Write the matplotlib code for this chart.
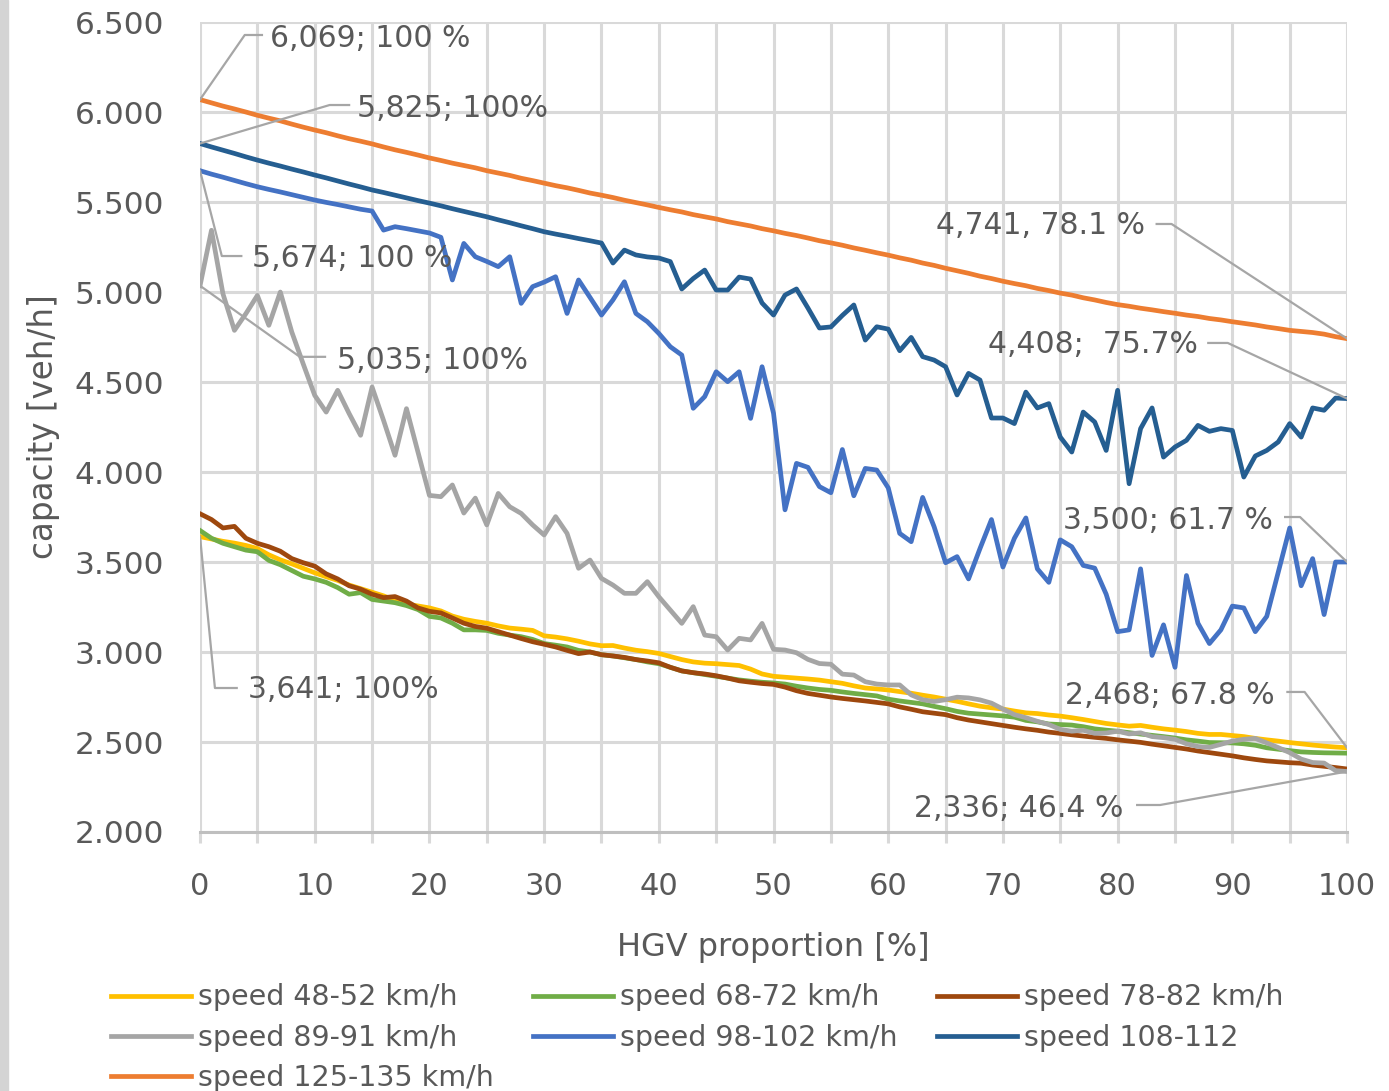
import matplotlib
matplotlib.use("Agg")
import matplotlib.pyplot as plt
from matplotlib.ticker import FuncFormatter
from matplotlib.patches import Rectangle

plt.rcParams['font.family'] = ['DejaVu Sans']

hgv = list(range(0, 101))

speed_48_52 = [3641, 3628, 3615, 3605, 3592, 3575, 3540, 3512, 3490, 3465,
               3440, 3418, 3398, 3372, 3352, 3332, 3312, 3286, 3266, 3256,
               3245, 3228, 3200, 3182, 3170, 3160, 3145, 3133, 3127, 3120,
               3090, 3083, 3073, 3060, 3045, 3035, 3036, 3022, 3010, 3002,
               2992, 2975, 2958, 2945, 2938, 2935, 2930, 2925, 2905, 2878,
               2865, 2860, 2855, 2850, 2844, 2835, 2826, 2812, 2800, 2795,
               2789, 2780, 2771, 2760, 2750, 2738, 2726, 2712, 2699, 2690,
               2683, 2672, 2662, 2658, 2650, 2644, 2635, 2625, 2614, 2603,
               2595, 2588, 2592, 2582, 2573, 2566, 2558, 2548, 2542, 2542,
               2536, 2530, 2520, 2512, 2505, 2497, 2490, 2483, 2477, 2472,
               2468]

speed_68_72 = [3675, 3632, 3604, 3585, 3566, 3557, 3509, 3485, 3453, 3421,
               3406, 3387, 3358, 3321, 3330, 3292, 3283, 3274, 3258, 3236,
               3198, 3189, 3160, 3123, 3123, 3120, 3104, 3094, 3085, 3070,
               3047, 3038, 3028, 3009, 3000, 2985, 2978, 2968, 2958, 2945,
               2935, 2915, 2895, 2885, 2875, 2865, 2855, 2845, 2838, 2832,
               2828, 2822, 2810, 2800, 2792, 2787, 2778, 2770, 2763, 2756,
               2738, 2728, 2720, 2712, 2698, 2685, 2670, 2660, 2655, 2650,
               2645, 2638, 2620, 2612, 2600, 2597, 2594, 2585, 2573, 2566,
               2560, 2552, 2544, 2537, 2530, 2522, 2512, 2505, 2497, 2496,
               2495, 2490, 2482, 2468, 2460, 2452, 2445, 2442, 2440, 2439,
               2438]

speed_78_82 = [3768, 3736, 3689, 3698, 3632, 3604, 3585, 3560, 3519, 3496,
               3477, 3434, 3406, 3368, 3349, 3321, 3302, 3308, 3283, 3245,
               3226, 3217, 3189, 3160, 3142, 3132, 3113, 3094, 3075, 3057,
               3043, 3028, 3009, 2991, 3000, 2985, 2978, 2970, 2958, 2950,
               2940, 2915, 2895, 2885, 2878, 2868, 2855, 2840, 2832, 2825,
               2820, 2805, 2785, 2770, 2760, 2750, 2742, 2735, 2728, 2720,
               2712, 2695, 2682, 2668, 2660, 2652, 2635, 2622, 2612, 2602,
               2592, 2582, 2573, 2565, 2555, 2548, 2540, 2533, 2526, 2520,
               2512, 2505, 2498, 2488, 2479, 2470, 2461, 2450, 2441, 2432,
               2423, 2412, 2403, 2395, 2390, 2385, 2382, 2372, 2365, 2358,
               2350]

speed_89_91 = [5035, 5343, 4990, 4787, 4880, 4981, 4815, 5000, 4778, 4600,
               4426, 4333, 4454, 4325, 4204, 4472, 4287, 4093, 4352, 4111,
               3870, 3863, 3928, 3772, 3855, 3706, 3881, 3807, 3770, 3706,
               3650, 3752, 3659, 3465, 3511, 3409, 3372, 3326, 3326, 3391,
               3307, 3233, 3159, 3252, 3094, 3085, 3011, 3076, 3067, 3159,
               3015, 3011, 2996, 2959, 2936, 2932, 2877, 2872, 2835, 2822,
               2817, 2817, 2762, 2735, 2725, 2735, 2749, 2745, 2734, 2716,
               2683, 2652, 2635, 2615, 2597, 2570, 2560, 2565, 2548, 2550,
               2560, 2545, 2551, 2530, 2524, 2515, 2490, 2475, 2470, 2487,
               2505, 2515, 2520, 2495, 2469, 2441, 2405, 2386, 2383, 2341,
               2336]

speed_98_102 = [5674, 5655, 5638, 5620, 5602, 5585, 5570, 5556, 5541, 5526,
                5511, 5498, 5486, 5473, 5460, 5450, 5344, 5363, 5352, 5340,
                5328, 5304, 5067, 5270, 5196, 5170, 5141, 5196, 4937, 5030,
                5055, 5085, 4881, 5067, 4970, 4872, 4956, 5057, 4881, 4835,
                4770, 4696, 4650, 4354, 4419, 4557, 4502, 4557, 4298, 4585,
                4326, 3790, 4048, 4026, 3919, 3885, 4125, 3868, 4020, 4011,
                3912, 3659, 3613, 3859, 3696, 3496, 3530, 3406, 3575, 3736,
                3472, 3632, 3745, 3462, 3387, 3623, 3585, 3481, 3466, 3321,
                3113, 3123, 3462, 2981, 3151, 2915, 3425, 3160, 3047, 3123,
                3255, 3245, 3113, 3198, 3443, 3689, 3368, 3519, 3208, 3500,
                3500]

speed_108_112 = [5825, 5806, 5788, 5770, 5751, 5733, 5716, 5700, 5683, 5667,
                 5650, 5634, 5617, 5600, 5584, 5567, 5553, 5538, 5523, 5508,
                 5494, 5479, 5463, 5448, 5433, 5418, 5401, 5385, 5368, 5352,
                 5335, 5322, 5310, 5297, 5285, 5272, 5161, 5233, 5206, 5195,
                 5189, 5169, 5017, 5075, 5122, 5011, 5011, 5083, 5072, 4939,
                 4872, 4983, 5017, 4911, 4800, 4806, 4870, 4928, 4733, 4807,
                 4794, 4674, 4748, 4641, 4622, 4585, 4428, 4548, 4511, 4300,
                 4300, 4269, 4444, 4356, 4380, 4194, 4111, 4333, 4278, 4120,
                 4454, 3935, 4241, 4356, 4083, 4139, 4176, 4259, 4226, 4241,
                 4231, 3972, 4089, 4120, 4167, 4269, 4194, 4356, 4343, 4411,
                 4408]

speed_125_135 = [6069, 6051, 6033, 6017, 6000, 5982, 5966, 5951, 5933, 5916,
                 5900, 5885, 5868, 5852, 5838, 5823, 5806, 5790, 5776, 5761,
                 5745, 5731, 5716, 5703, 5690, 5674, 5661, 5648, 5632, 5619,
                 5605, 5591, 5579, 5565, 5550, 5538, 5525, 5510, 5497, 5484,
                 5470, 5457, 5445, 5430, 5418, 5406, 5391, 5379, 5367, 5352,
                 5340, 5326, 5314, 5300, 5285, 5273, 5260, 5245, 5232, 5218,
                 5205, 5190, 5177, 5161, 5148, 5132, 5118, 5104, 5088, 5075,
                 5060, 5047, 5035, 5020, 5008, 4994, 4983, 4968, 4956, 4942,
                 4930, 4921, 4910, 4901, 4891, 4882, 4872, 4864, 4853, 4845,
                 4835, 4826, 4817, 4806, 4797, 4787, 4781, 4775, 4766, 4752,
                 4741]

names = ["speed 48-52 km/h", "speed 68-72 km/h", "speed 78-82 km/h",
         "speed 89-91 km/h", "speed 98-102 km/h", "speed 108-112",
         "speed 125-135 km/h"]
colors = ["#FFC000", "#70AD47", "#9E480E", "#A5A5A5", "#4472C4", "#255E91", "#ED7D31"]
series = [speed_48_52, speed_68_72, speed_78_82, speed_89_91,
          speed_98_102, speed_108_112, speed_125_135]

# data labels: text, anchor x/y, horizontal alignment, leader path
labels = [
    ("6,069; 100 %", 6.1, 6411, "left", [(0, 6069), (3.9, 6428), (5.4, 6428)]),
    ("5,825; 100%", 13.7, 6022, "left", [(0, 5825), (11.3, 6039), (13.0, 6039)]),
    ("5,674; 100 %", 4.5, 5189, "left", [(0, 5674), (1.9, 5200), (3.6, 5200)]),
    ("5,035; 100%", 11.9, 4622, "left", [(0, 5035), (8.7, 4640), (10.9, 4640)]),
    ("3,641; 100%", 4.2, 2789, "left", [(0, 3641), (1.3, 2800), (3.2, 2800)]),
    ("4,741, 78.1 %", 82.4, 5367, "right", [(100, 4741), (84.7, 5378), (83.4, 5378)]),
    ("4,408;  75.7%", 87.0, 4706, "right", [(100, 4408), (89.6, 4717), (87.9, 4717)]),
    ("3,500; 61.7 %", 93.5, 3728, "right", [(100, 3500), (95.9, 3750), (94.6, 3750)]),
    ("2,468; 67.8 %", 93.7, 2761, "right", [(100, 2468), (96.3, 2778), (94.8, 2778)]),
    ("2,336; 46.4 %", 80.5, 2133, "right", [(100, 2336), (83.7, 2150), (81.7, 2150)]),
]

txt = "#595959"
grid = "#D9D9D9"

fig = plt.figure(figsize=(13.89, 10.91), dpi=100)
fig.patches.append(Rectangle((0, 0), 0.006, 1, transform=fig.transFigure,
                             color="#D4D4D4", zorder=0))
ax = fig.add_axes([0.144, 0.2374, 0.8258, 0.7424])

lines = []
for vals, name, c in zip(series, names, colors):
    ln, = ax.plot(hgv, vals, color=c, lw=3.4, label=name, solid_joinstyle="round")
    lines.append(ln)

for text, tx, ty, ha, path in labels:
    xs = [p[0] for p in path]
    ys = [p[1] for p in path]
    ax.plot(xs, ys, color="#A6A6A6", lw=1.6, zorder=5)
    ax.text(tx, ty, text, ha=ha, va="center", fontsize=21.5, color=txt, zorder=6)

ax.set_xlim(0, 100)
ax.set_ylim(2000, 6500)
ax.set_xticks(range(0, 101, 5))
ax.set_xticklabels([str(v) if v % 10 == 0 else "" for v in range(0, 101, 5)])
ax.set_yticks(range(2000, 6501, 500))
ax.yaxis.set_major_formatter(FuncFormatter(lambda v, p: f"{int(v):,}".replace(",", ".")))
ax.grid(True, color=grid, lw=2.2)
ax.set_axisbelow(True)
for s in ["top", "right", "left"]:
    ax.spines[s].set_visible(False)
ax.spines["bottom"].set_color("#BFBFBF")
ax.spines["bottom"].set_linewidth(2.2)
ax.tick_params(axis="x", length=8, width=2.2, color=grid, pad=21, labelsize=22, labelcolor=txt)
ax.tick_params(axis="y", length=0, pad=26, labelsize=22.5, labelcolor=txt)
ax.set_xlabel("HGV proportion [%]", fontsize=23, color=txt, labelpad=22)
ax.set_ylabel("capacity [veh/h]", fontsize=23.5, color=txt, labelpad=10)

order = [0, 3, 6, 1, 4, 2, 5]
fig.legend([lines[i] for i in order], [names[i] for i in order], ncol=3,
           loc="upper left", bbox_to_anchor=(0.072, 0.109), frameon=False,
           fontsize=20.5, labelcolor=txt, handlelength=2.8, handletextpad=0.25,
           columnspacing=1.38, labelspacing=0.43, borderaxespad=0)

fig.savefig("out.png", dpi=100)
